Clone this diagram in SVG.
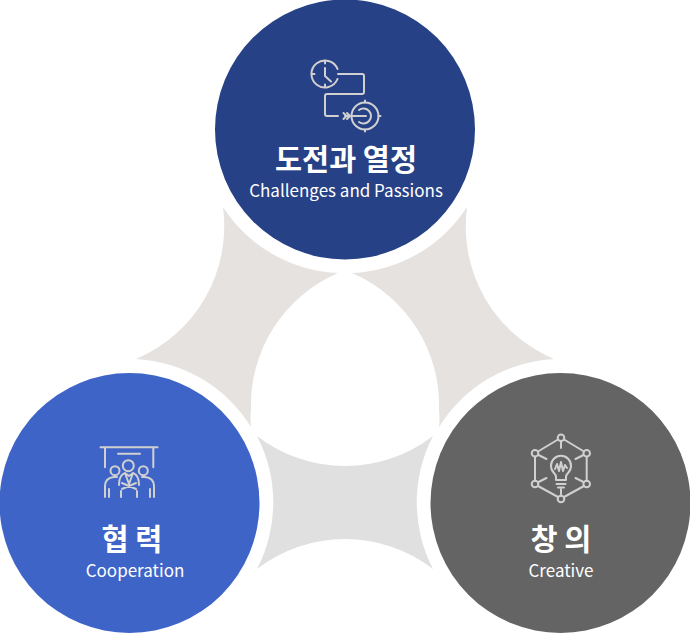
<svg xmlns="http://www.w3.org/2000/svg" width="690" height="633" viewBox="0 0 690 633">
<style>
.t{font-family:"Noto Sans CJK KR","Noto Sans",sans-serif;font-size:29.4px;font-weight:700;fill:#fff;text-anchor:middle}
.s{font-family:"Noto Sans CJK KR","Noto Sans",sans-serif;font-size:17px;font-weight:400;fill:#fff;text-anchor:middle}
.i{fill:none;stroke:#d0d0d0;stroke-width:2;stroke-linecap:round;stroke-linejoin:round}
</style>
<rect width="690" height="633" fill="#fff"/>
<g id="connectors">
<path fill="#e5e2df" d="M223 207A144 144 0 0 0 338 273A144 144 0 0 0 251 410Q250 420 251 427A144 144 0 0 0 136 359A144 144 0 0 0 223 207Z"/>
<path fill="#e5e2df" d="M467 207A144 144 0 0 1 352 273A144 144 0 0 1 439 410Q440 420 439 427A144 144 0 0 1 554 359A144 144 0 0 1 467 207Z"/>
<path fill="#e0e0e0" d="M257 436A144 144 0 0 0 433 436A144 144 0 0 0 433 569A144 144 0 0 0 257 569A144 144 0 0 0 257 436Z"/>
</g>
<g id="node-top">
<circle cx="345" cy="129.500" r="130" fill="#274186"/>
<g class="i">
<path d="M337.500 69A13.500 13.500 0 1 0 337.500 79M325 60.500v3M325 84.500v3M311.500 74h3M325 68v8l6 5.500"/>
<path d="M338 74h24q2 0 2 2v16q0 2-2 2h-35q-2 0-2 2v18q0 2 2 2h11"/>
<circle cx="365" cy="116" r="13.500"/>
<path d="M365 102.500v-2M365 129.500v2M351.500 116h-1.500M378.500 116h2"/>
<path d="M345 116h21M343.500 113l3 3-3 3M347 113l3 3-3 3"/>
<path d="M359 110a7.500 7.500 0 1 1 0 12"/>
</g>
<text class="t" x="346" y="170">도전과 열정</text>
<text class="s" x="346" y="197">Challenges and Passions</text>
</g>
<g id="node-left">
<circle cx="129.500" cy="503" r="130" fill="#3f64c8"/>
<g class="i">
<path d="M100.500 447.300h57M105 447.300v20M153.300 447.300v20M118 453.700h22"/>
<circle cx="128.300" cy="465.700" r="5.500"/><circle cx="115" cy="470.700" r="4.500"/><circle cx="143.300" cy="470.700" r="4.500"/>
<path d="M105 497v-11q0-8 9-9h3M154 497v-11q0-8-9-9h-3M109 497v-8M150 497v-8M121 497v-6M137 497v-6"/>
<path d="M119 485q0-10 6-12l4 3 4-3q6 2 6 12M125 473l4 11 4-11M122 483l14 6M136 483l-14 6"/>
</g>
<text class="t" x="132" y="550">협 력</text>
<text class="s" x="135" y="577">Cooperation</text>
</g>
<g id="node-right">
<circle cx="560.500" cy="503" r="130" fill="#646464"/>
<g class="i">
<circle cx="561" cy="437.700" r="3.300"/><circle cx="586.700" cy="453.300" r="3.300"/><circle cx="586.700" cy="484" r="3.300"/><circle cx="561" cy="499" r="3.300"/><circle cx="535" cy="484" r="3.300"/><circle cx="535" cy="453.300" r="3.300"/>
<path d="M564 439.500l20 12M558 439.500l-20 12M586.700 457v24M535 457v24M584 486l-20 11M558 497l-20-11M561 441v7M561 489v7M583.500 455l-8 4M538.500 455l8 4M583.500 482l-8-4M538.500 482l8-4"/>
<path d="M556 480v-3q0-2-2-4a10 10 0 1 1 14 0q-2 2-2 4v3zM556.500 484h9M558 487.500h6"/>
<path d="M555 469l2-5 2 7 2-9 2 9 2-6 2 3"/>
</g>
<text class="t" x="561" y="550">창 의</text>
<text class="s" x="561" y="577">Creative</text>
</g>
</svg>
